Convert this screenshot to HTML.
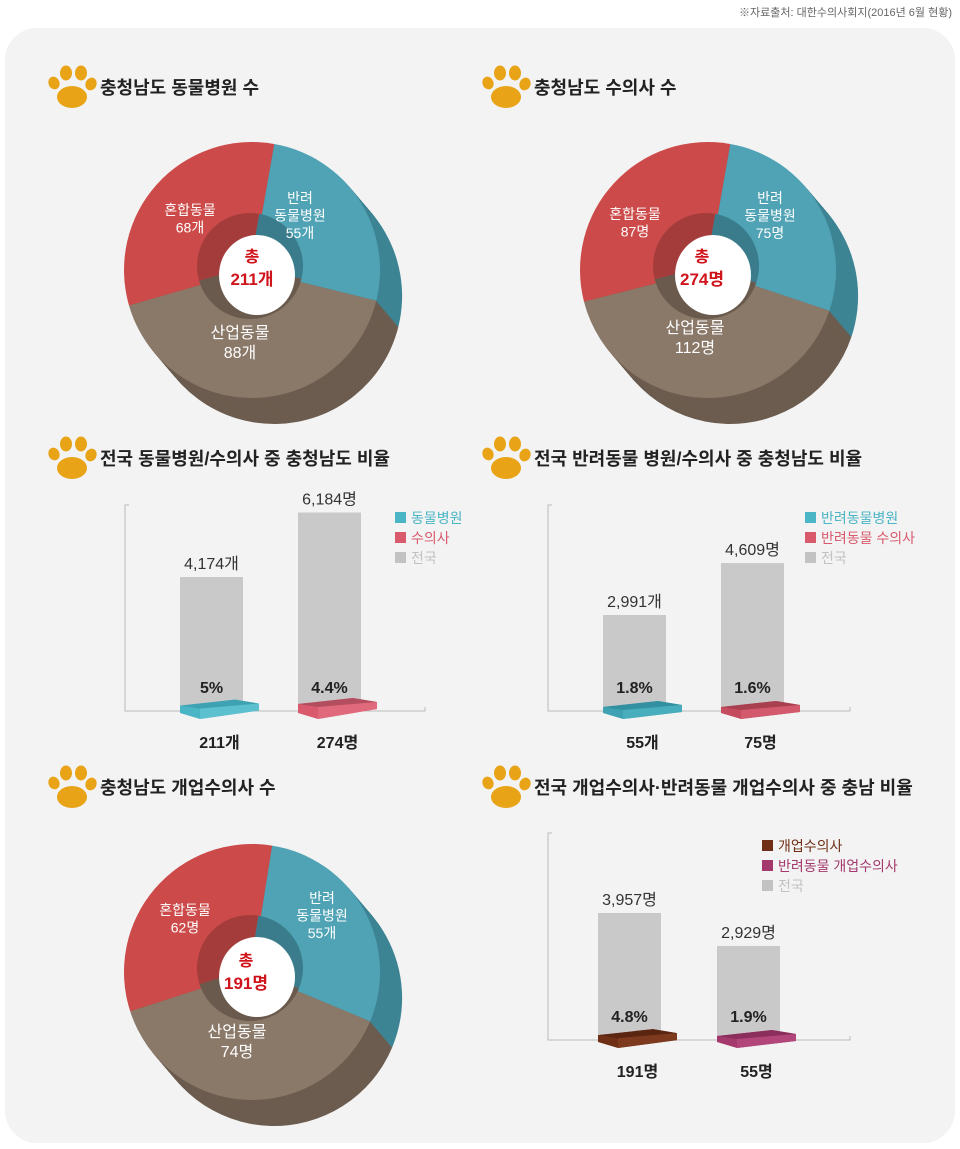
<!DOCTYPE html>
<html><head><meta charset="utf-8">
<style>
html,body{margin:0;padding:0;background:#fff;}
svg{display:block;font-family:"Liberation Sans","Noto Sans CJK KR",sans-serif;}
</style></head>
<body>
<svg id="s" width="960" height="1149" viewBox="0 0 960 1149" xmlns="http://www.w3.org/2000/svg">
<rect x="5" y="28" width="950" height="1115" rx="32" fill="#f3f3f3"/>
<text x="952" y="16" font-size="11" fill="#666" text-anchor="end">※자료출처: 대한수의사회지(2016년 6월 현황)</text>
<g id="titles"></g>
<g id="donuts"></g>
<g id="bars"></g>
</svg>
<script>
// ---- donut data ----
const donut1Labels = ["반려 동물병원","산업동물","혼합동물"];
const donut1Values = [55, 88, 68];
const donut2Labels = ["반려 동물병원","산업동물","혼합동물"];
const donut2Values = [75, 112, 87];
const donut3Labels = ["반려 동물병원","산업동물","혼합동물"];
const donut3Values = [55, 74, 62];
// ---- bar data ----
const barA_total = [4174, 6184];
const barA_part = [211, 274];
const barA_pct = ["5%", "4.4%"];
const barA_totalLabels = ["4,174개", "6,184명"];
const barA_partLabels = ["211개", "274명"];
const barB_total = [2991, 4609];
const barB_part = [55, 75];
const barB_pct = ["1.8%", "1.6%"];
const barB_totalLabels = ["2,991개", "4,609명"];
const barB_partLabels = ["55개", "75명"];
const barC_total = [3957, 2929];
const barC_part = [191, 55];
const barC_pct = ["4.8%", "1.9%"];
const barC_totalLabels = ["3,957명", "2,929명"];
const barC_partLabels = ["191명", "55명"];

const NS = "http://www.w3.org/2000/svg";
function mk(tag, attrs, parent){const e=document.createElementNS(NS,tag);for(const k in attrs)e.setAttribute(k,attrs[k]);parent.appendChild(e);return e;}
function txt(parent,x,y,s,size,fill,weight,anchor){const t=mk('text',{x:x,y:y,'font-size':size,fill:fill,'font-weight':weight||'normal','text-anchor':anchor||'middle'},parent);t.textContent=s;return t;}

// titles
const titles=document.getElementById('titles');
function paw(g,x,y){
  mk('ellipse',{cx:x+24,cy:y+12,rx:15,ry:11,fill:'#e8a317'},g);
  mk('ellipse',{cx:x+6,cy:y-2,rx:5.5,ry:6.5,fill:'#e8a317',transform:`rotate(-25 ${x+6} ${y-2})`},g);
  mk('ellipse',{cx:x+18,cy:y-12,rx:6,ry:7.5,fill:'#e8a317'},g);
  mk('ellipse',{cx:x+33,cy:y-12,rx:6,ry:7.5,fill:'#e8a317'},g);
  mk('ellipse',{cx:x+43,cy:y-1,rx:5.5,ry:6.5,fill:'#e8a317',transform:`rotate(25 ${x+43} ${y-1})`},g);
}
[[48,"충청남도 동물병원 수",87],[482,"충청남도 수의사 수",87],[48,"전국 동물병원/수의사 중 충청남도 비율",458],[482,"전국 반려동물 병원/수의사 중 충청남도 비율",458],[48,"충청남도 개업수의사 수",787],[482,"전국 개업수의사·반려동물 개업수의사 중 충남 비율",787]].forEach(t=>{
  const g=mk('g',{},titles);
  
  
  paw(g,t[0],t[2]-2);
  txt(g,t[0]+52,t[2]+7,t[1],18,'#222','bold','start');
});

// donuts
const donutsG=document.getElementById('donuts');
const topCols=['#4fa3b5','#8a7868','#cc4b4a'];
const sideCols=['#3d8494','#6c5c4f','#963838'];
const innerCols=['#3a7c8b','#6a5a4d','#a53c3c'];
function arcPath(cx,cy,r,a0,a1){
  const p=a=>[cx+r*Math.sin(a*Math.PI/180),cy-r*Math.cos(a*Math.PI/180)];
  const s=p(a0),e=p(a1);const large=(a1-a0)>180?1:0;
  return `M${cx},${cy} L${s[0]},${s[1]} A${r},${r} 0 ${large} 1 ${e[0]},${e[1]} Z`;
}
function donut(values,cx,cy,r,start,name){
  const g=mk('g',{},donutsG);
  
  
  const tot=values.reduce((a,b)=>a+b,0);
  const angs=[];let a=start;values.forEach(v=>{const b=a+v/tot*360;angs.push([a,b]);a=b;});
  for(let i=26;i>=1;i--){
    angs.forEach((an,k)=>{mk('path',{d:arcPath(cx+i*0.85,cy+i*1.0,r,an[0],an[1]),fill:sideCols[k]},g);});
  }
  angs.forEach((an,k)=>{
    const p=mk('path',{d:arcPath(cx,cy,r,an[0],an[1]),fill:topCols[k]},g);
    
    
  });
  angs.forEach((an,k)=>{mk('path',{d:arcPath(cx-2,cy-4,53,an[0],an[1]),fill:innerCols[k]},g);});
  mk('ellipse',{cx:cx+5,cy:cy+5,rx:38,ry:40,fill:'#fff'},g);
}
donut(donut1Values,252,270,128,10,'donut-hospitals');
donut(donut2Values,708,270,128,10,'donut-vets');
donut(donut3Values,252,972,128,9,'donut-practicing-vets');
function dl(x,y,lines,size){const g=mk('g',{},donutsG);lines.forEach((l,i)=>txt(g,x,y+i*size*1.25,l,size,'#fff'));}
function dc(x,y,a,b){const g=mk('g',{},donutsG);txt(g,x,y,a,16,'#d0141c','bold');txt(g,x,y+23,b,17,'#d0141c','bold');}
dl(190,215,["혼합동물",donut1Values[2]+"개"],14);
dl(300,203,["반려","동물병원",donut1Values[0]+"개"],14);
dl(240,338,["산업동물",donut1Values[1]+"개"],16);
dc(252,262,"총",(donut1Values.reduce((a,b)=>a+b,0))+"개");
dl(635,219,["혼합동물",donut2Values[2]+"명"],14);
dl(770,203,["반려","동물병원",donut2Values[0]+"명"],14);
dl(695,333,["산업동물",donut2Values[1]+"명"],16);
dc(702,262,"총",(donut2Values.reduce((a,b)=>a+b,0))+"명");
dl(185,915,["혼합동물",donut3Values[2]+"명"],14);
dl(322,903,["반려","동물병원",donut3Values[0]+"개"],14);
dl(237,1037,["산업동물",donut3Values[1]+"명"],16);
dc(246,966,"총",(donut3Values.reduce((a,b)=>a+b,0))+"명");

// bars
const barsG=document.getElementById('bars');
const SCALE=0.0321;
function barChart(name,axisX,axisTop,base,right,xs,totals,parts,pcts,tLabels,pLabels,cols,legX,legY,legNames,legCols){
  const g=mk('g',{},barsG);
  
  
  mk('path',{d:`M${axisX+4},${axisTop} H${axisX} V${base} H${right} V${base-4}`,fill:'none',stroke:'#bbb','stroke-width':1},g);
  const y=v=>base-v*SCALE;
  totals.forEach((v,i)=>{
    const x=xs[i],w=63;
    const r=mk('rect',{x:x,y:y(v),width:w,height:base-y(v),fill:'#c9c9c9'},g);
    
    
    const h=Math.max(4,parts[i]*SCALE*0.8);
    const topY=base-h;
    const s1=mk('path',{d:`M${x},${topY} L${x+w-8},${topY-6} L${x+w+16},${topY-2} L${x+w+16},${topY+5} L${x+20},${base+8} L${x},${base+2} Z`,fill:cols[i][1]},g);
    
    
    mk('path',{d:`M${x},${topY} L${x+w-8},${topY-6} L${x+w+16},${topY-2} L${x+20},${topY+3} Z`,fill:cols[i][0]},g);
    mk('path',{d:`M${x+20},${topY+3} L${x+w+16},${topY-2} L${x+w+16},${topY+5} L${x+20},${base+8} Z`,fill:cols[i][2]},g);
    txt(g,x+w/2,y(v)-8,tLabels[i],16,'#333');
    txt(g,x+w/2,base-18,pcts[i],16,'#222','bold');
    txt(g,x+w/2+8,base+37,pLabels[i],16,'#222','bold');
  });
  legNames.forEach((n,i)=>{
    const lg=mk('g',{},g);
    
    
    mk('rect',{x:legX,y:legY+i*20-11,width:11,height:11,fill:legCols[i]},lg);
    txt(lg,legX+16,legY+i*20,n,14,legCols[i],'normal','start');
  });
}
barChart('bar-chart-national-ratio',125,505,711,425,[180,298],barA_total,barA_part,barA_pct,barA_totalLabels,barA_partLabels,
  [['#3fa2b2','#4ab5c4','#5cc0ce'],['#b24e5d','#d9596d','#e06a7c']],395,523,["동물병원","수의사","전국"],['#4ab5c4','#d9596d','#c2c2c2']);
barChart('bar-chart-companion-ratio',548,505,711,850,[603,721],barB_total,barB_part,barB_pct,barB_totalLabels,barB_partLabels,
  [['#3390a0','#3fa2b2','#48aebd'],['#a9404f','#c44c5e','#d25a6c']],805,523,["반려동물병원","반려동물 수의사","전국"],['#4ab5c4','#d9596d','#c2c2c2']);
barChart('bar-chart-practicing-ratio',548,833,1040,850,[598,717],barC_total,barC_part,barC_pct,barC_totalLabels,barC_partLabels,
  [['#5a2612','#6e2f16','#7d3a1e'],['#8c2e5c','#a3396c','#b2467a']],762,851,["개업수의사","반려동물 개업수의사","전국"],['#6e2f16','#a3396c','#c2c2c2']);
</script>
</body></html>
